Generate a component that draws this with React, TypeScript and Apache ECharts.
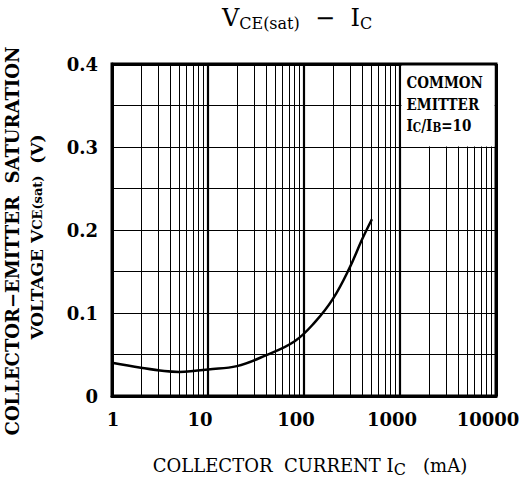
import React, { useEffect, useRef } from "react";
import * as echarts from "echarts";

const currentMA = [1, 2, 3.5, 5, 7, 10, 20, 40, 80, 130, 200, 300, 400, 510];
const vceSat = [0.04, 0.034, 0.03, 0.029, 0.03, 0.032, 0.036, 0.049, 0.066, 0.089, 0.117, 0.155, 0.188, 0.213];
const minorX = [2, 3, 4, 5, 6, 7, 8, 9, 20, 30, 40, 50, 60, 70, 80, 90, 200, 300, 400, 500, 600, 700, 800, 900, 2000, 3000, 4000, 5000, 6000, 7000, 8000, 9000];
const decadeX = [10, 100, 1000];
const boxCorner1 = [1000, 0.4];
const boxCorner2 = [10000, 0.3];

const FONT = "DejaVu Serif";

export default function App() {
  const ref = useRef<HTMLDivElement>(null);
  useEffect(() => {
    if (!ref.current) return;
    const chart = echarts.init(ref.current, undefined, { renderer: "svg" });
    const data = currentMA.map((x, i) => [x, vceSat[i]]);
    const lblStyle = { fontFamily: FONT, fontWeight: "bold", fontSize: 18, color: "#000" };
    chart.setOption({
      animation: false,
      backgroundColor: "#fff",
      grid: {
        left: 112,
        right: 23,
        top: 64,
        bottom: 88,
        show: true,
        borderColor: "#000",
        borderWidth: 3,
        outerBoundsMode: "none",
        containLabel: false,
      },
      xAxis: {
        type: "log",
        logBase: 10,
        min: 1,
        max: 10000,
        axisLine: { show: true, lineStyle: { color: "#000", width: 3 } },
        axisTick: { show: false },
        splitLine: { show: false },
        axisLabel: {
          color: "#000",
          fontFamily: FONT,
          fontWeight: "bold",
          fontSize: 18,
          margin: 14,
          formatter: (v: number) => {
            const s = String(Math.round(v));
            return s === "1" ? `{a|${s}}` : `{b|${s}}`;
          },
          rich: {
            a: { ...lblStyle, padding: [0, 0, 0, 2] },
            b: { ...lblStyle, padding: [0, 16, 0, 0] },
          },
        },
      },
      yAxis: {
        type: "value",
        min: 0,
        max: 0.4,
        interval: 0.1,
        axisLine: { show: true, lineStyle: { color: "#000", width: 3 } },
        axisTick: { show: false },
        splitLine: { show: true, lineStyle: { color: "#000", width: 1 } },
        minorTick: { show: false, splitNumber: 2 },
        minorSplitLine: { show: true, lineStyle: { color: "#000", width: 1 } },
        axisLabel: {
          color: "#000",
          fontFamily: FONT,
          fontWeight: "bold",
          fontSize: 18,
          margin: 14,
          formatter: (v: number) => (v === 0 ? "0" : v.toFixed(1)),
        },
      },
      series: [
        {
          type: "line",
          data,
          smooth: 0.4,
          showSymbol: false,
          symbol: "none",
          lineStyle: { color: "#000", width: 2.5 },
          z: 5,
          markLine: {
            silent: true,
            symbol: "none",
            label: { show: false },
            animation: false,
            data: [
              ...minorX.map((v) => ({ xAxis: v, lineStyle: { color: "#000", width: 1, type: "solid" } })),
              ...decadeX.map((v) => ({ xAxis: v, lineStyle: { color: "#000", width: 2.2, type: "solid" } })),
              { xAxis: 10000, lineStyle: { color: "#000", width: 3, type: "solid" } },
              { yAxis: 0.4, lineStyle: { color: "#000", width: 3, type: "solid" } },
            ],
          },
        },
      ],
    });

    const p1 = chart.convertToPixel({ gridIndex: 0 }, boxCorner1) as number[];
    const p2 = chart.convertToPixel({ gridIndex: 0 }, boxCorner2) as number[];
    const bx = p1[0] + 1.5;
    const by = p1[1] + 1.5;
    const bw = p2[0] - p1[0] - 3;
    const bh = p2[1] - p1[1] - 2;

    chart.setOption({
      graphic: [
        {
          type: "rect",
          z: 100,
          shape: { x: bx, y: by, width: bw, height: bh },
          style: { fill: "#fff", lineWidth: 0 },
        },
        {
          type: "text",
          z: 101,
          x: bx + 5,
          y: by + 6,
          scaleY: 1.3,
          style: {
            text: "COMMON\nEMITTER\n{n|I}{s|C}{n|/I}{s|B}{n|=10}",
            fill: "#000",
            font: `bold 13.5px '${FONT}'`,
            lineHeight: 16.5,
            rich: {
              n: { fontFamily: FONT, fontWeight: "bold", fontSize: 13.5, fill: "#000", lineHeight: 16.5 },
              s: { fontFamily: FONT, fontWeight: "bold", fontSize: 10.5, fill: "#000", padding: [4, 0, 0, 0], lineHeight: 16.5 },
            },
          },
        },
        {
          type: "text",
          z: 101,
          x: 297,
          y: 18,
          style: {
            text: "{n|V}{s|CE(sat)}{n|  −  I}{s|C}",
            align: "center",
            verticalAlign: "middle",
            rich: {
              n: { fontFamily: FONT, fontSize: 24, fill: "#000" },
              s: { fontFamily: FONT, fontSize: 16, fill: "#000", padding: [11, 0, 0, 0] },
            },
          },
        },
        {
          type: "text",
          z: 101,
          x: 310,
          y: 465,
          style: {
            text: "{n|COLLECTOR  CURRENT I}{s|C}{n|   (mA)}",
            align: "center",
            verticalAlign: "middle",
            rich: {
              n: { fontFamily: FONT, fontSize: 18, fill: "#000" },
              s: { fontFamily: FONT, fontSize: 16, fill: "#000", padding: [9, 0, 0, 0] },
            },
          },
        },
        {
          type: "text",
          z: 101,
          x: 12,
          y: 241,
          rotation: Math.PI / 2,
          style: {
            text: "COLLECTOR−EMITTER  SATURATION",
            align: "center",
            verticalAlign: "middle",
            fontFamily: FONT,
            fontWeight: "bold",
            fontSize: 18,
            fill: "#000",
          },
        },
        {
          type: "text",
          z: 101,
          x: 37,
          y: 237,
          rotation: Math.PI / 2,
          style: {
            text: "{n|VOLTAGE V}{s|CE(sat)}{n|  (V)}",
            align: "center",
            verticalAlign: "middle",
            rich: {
              n: { fontFamily: FONT, fontWeight: "bold", fontSize: 17, fill: "#000" },
              s: { fontFamily: FONT, fontWeight: "bold", fontSize: 13, fill: "#000" },
            },
          },
        },
      ],
    });
    return () => chart.dispose();
  }, []);
  return <div ref={ref} style={{ width: 519, height: 484, position: "absolute", left: 0, top: 0 }} />;
}
